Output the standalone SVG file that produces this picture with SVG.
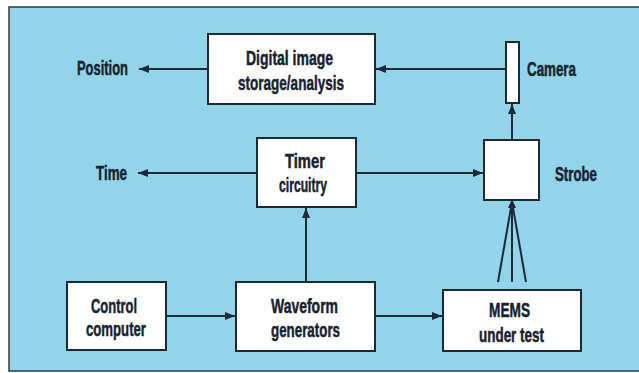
<svg xmlns="http://www.w3.org/2000/svg" width="639" height="373" viewBox="0 0 639 373">
<defs>
<marker id="ah" viewBox="0 0 10 8" refX="10" refY="4" markerWidth="10" markerHeight="8" markerUnits="userSpaceOnUse" orient="auto">
<path d="M0,0 L10,4 L0,8 Z" fill="#1c2a38"/>
</marker>
<style>
.box{fill:#ffffff;stroke:#1c2a38;stroke-width:2}
.ln{stroke:#1c2a38;stroke-width:2;fill:none}
.t{font-family:"Liberation Sans",Arial,sans-serif;font-weight:bold;font-size:21px;fill:#17222e;stroke:#17222e;stroke-width:0.5}
</style>
</defs>
<rect x="0" y="0" width="639" height="373" fill="#ffffff"/>
<rect x="9" y="7" width="632" height="364" fill="#93d4eb" stroke="#2e3b46" stroke-width="1.5"/>
<g id="connectors">
<line class="ln" x1="208" y1="69" x2="139" y2="69" marker-end="url(#ah)"/>
<line class="ln" x1="506" y1="69" x2="376" y2="69" marker-end="url(#ah)"/>
<line class="ln" x1="512" y1="140" x2="512" y2="104" marker-end="url(#ah)"/>
<line class="ln" x1="257" y1="173" x2="138" y2="173" marker-end="url(#ah)"/>
<line class="ln" x1="356" y1="173" x2="483" y2="173" marker-end="url(#ah)"/>
<line class="ln" x1="306" y1="282" x2="306" y2="208" marker-end="url(#ah)"/>
<line class="ln" x1="166" y1="316" x2="235" y2="316" marker-end="url(#ah)"/>
<line class="ln" x1="375" y1="316" x2="442" y2="316" marker-end="url(#ah)"/>
<line class="ln" x1="498" y1="282" x2="512" y2="202"/>
<line class="ln" x1="512" y1="282" x2="512" y2="202"/>
<line class="ln" x1="526" y1="282" x2="512" y2="202"/>
<path d="M508,208 L512,199 L516,208 Z" fill="#1c2a38"/>
</g>
<g id="position"><text class="t" x="77" y="75" textLength="51" lengthAdjust="spacingAndGlyphs">Position</text></g>
<g id="digital">
<rect class="box" x="208" y="34" width="167" height="70"/>
<text class="t" x="246" y="65" textLength="87" lengthAdjust="spacingAndGlyphs">Digital image</text>
<text class="t" x="238" y="90" textLength="106" lengthAdjust="spacingAndGlyphs">storage/analysis</text>
</g>
<g id="camera">
<rect class="box" x="506" y="42" width="13" height="61"/>
<text class="t" x="527" y="76" textLength="49" lengthAdjust="spacingAndGlyphs">Camera</text>
</g>
<g id="time"><text class="t" x="96" y="180" textLength="31" lengthAdjust="spacingAndGlyphs">Time</text></g>
<g id="timer">
<rect class="box" x="257" y="138" width="99" height="69"/>
<text class="t" x="285" y="168" textLength="40" lengthAdjust="spacingAndGlyphs">Timer</text>
<text class="t" x="279" y="192" textLength="48" lengthAdjust="spacingAndGlyphs">circuitry</text>
</g>
<g id="strobe">
<rect class="box" x="484" y="140" width="55" height="60"/>
<text class="t" x="555" y="181" textLength="42" lengthAdjust="spacingAndGlyphs">Strobe</text>
</g>
<g id="control">
<rect class="box" x="67" y="282" width="99" height="68"/>
<text class="t" x="91" y="313" textLength="46" lengthAdjust="spacingAndGlyphs">Control</text>
<text class="t" x="86" y="336" textLength="60" lengthAdjust="spacingAndGlyphs">computer</text>
</g>
<g id="waveform">
<rect class="box" x="236" y="282" width="139" height="69"/>
<text class="t" x="271" y="313" textLength="67" lengthAdjust="spacingAndGlyphs">Waveform</text>
<text class="t" x="271" y="337" textLength="69" lengthAdjust="spacingAndGlyphs">generators</text>
</g>
<g id="mems">
<rect class="box" x="443" y="290" width="138" height="61"/>
<text class="t" x="489" y="317" textLength="41" lengthAdjust="spacingAndGlyphs">MEMS</text>
<text class="t" x="479" y="342" textLength="65" lengthAdjust="spacingAndGlyphs">under test</text>
</g>
</svg>
